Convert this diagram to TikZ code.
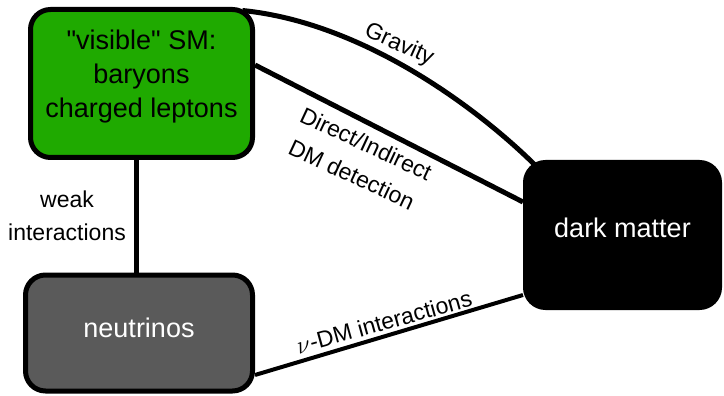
\documentclass[tikz,border=0pt]{standalone}
\usepackage{fontspec}
\setmainfont{Liberation Sans}
\usetikzlibrary{backgrounds}
\definecolor{smgreen}{RGB}{31,170,0}
\definecolor{nugray}{RGB}{90,90,90}
\newcommand\straightquote{\XeTeXglyph\XeTeXcharglyph34\relax}

\begin{document}
\begin{tikzpicture}[x=1pt, y=-1pt,
		sector/.style={draw=black, line width=5pt, rounded corners=20pt, align=center, inner sep=0pt, font=\fontsize{27}{34}\selectfont},
		link/.style={draw=black, line width=5pt},
		tag/.style={align=center, inner sep=0pt, font=\fontsize{23}{33}\selectfont}]
		\useasboundingbox (0,0) rectangle (724,396);

		% SECTORS
		\node[sector, fill=smgreen, minimum width=222pt, minimum height=148pt] (sm) at (141.5,83.5) {\straightquote visible\straightquote{} SM:\\baryons\\charged leptons\rule[-20pt]{0pt}{20pt}};
		\node[sector, fill=nugray, text=white, minimum width=227pt, minimum height=116pt, text depth=10pt] (nu) at (139,333) {neutrinos};
		\node[sector, fill=black, text=white, minimum width=194pt, minimum height=145pt, text depth=15pt] (dm) at (622.5,235) {dark matter};

		% INTERACTIONS
		\begin{pgfonlayer}{background}
			\draw[link] ([xshift=-5.5pt]sm.south) -- ([xshift=-5.5pt]sm.south |- nu.north);
			\draw[link] ([xshift=-12.5pt,yshift=-3.5pt]sm.north east) .. controls +(120,12) and +(-60,-60) .. ([xshift=14.5pt,yshift=-7.5pt]dm.north west);
			\draw[link] ([yshift=18.5pt]sm.east) -- ([yshift=33pt]dm.west);
			\draw[link, line width=4pt] ([yshift=-42pt]nu.east) -- ([yshift=-60pt]dm.west);
		\end{pgfonlayer}

		% LABELS
		\node[tag] (weak) at (67,216) {weak\\interactions};
		\node[tag, rotate=-24] (grav) at (399,45) {Gravity};
		\node[tag, font=\fontsize{23}{34}\selectfont, rotate=-25] (detect) at (359,159) {Direct/Indirect\\DM detection};
		\node[tag, rotate=15.5] (nudm) at (384,322) {$\nu$-DM interactions};
\end{tikzpicture}
\end{document}
